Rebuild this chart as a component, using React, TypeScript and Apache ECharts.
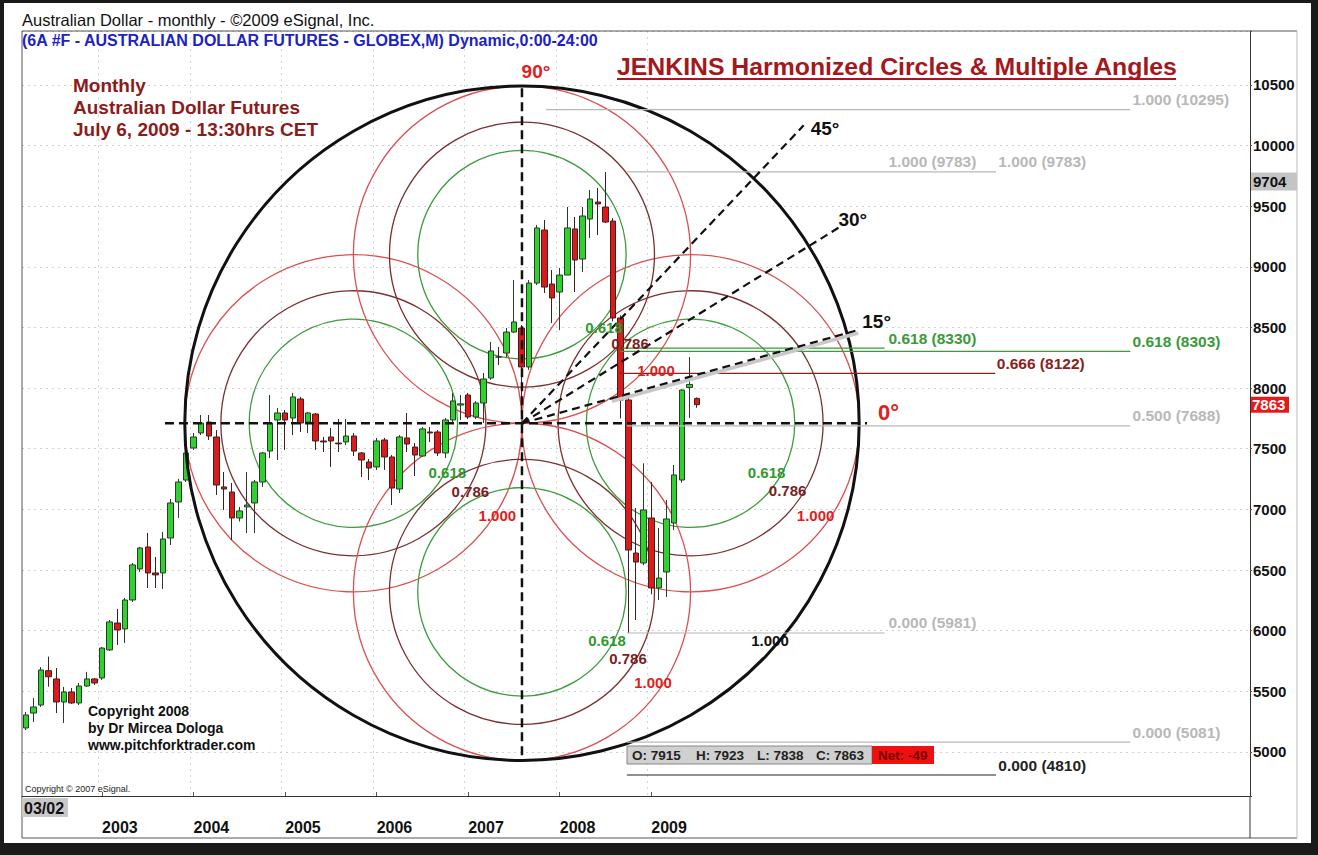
import React, { useEffect, useRef } from 'react';
import * as echarts from 'echarts';

// ---------- DATA ----------
const START_YEAR = 2002;
const START_MONTH = 3; // first bar: 03/02
const N_SLOTS = 161; // monthly slots shown on the time axis

const opens = [
  5198, 5321, 5387, 5670, 5602, 5412, 5495, 5404, 5544, 5602,
  5610, 5841, 6063, 6014, 6253, 6509, 6690, 6476, 6476, 6764, 7061, 7242,
  7506, 7630, 7720, 7597, 7185, 7143, 6929, 7020, 7053, 7226, 7481, 7737,
  7795, 7753, 7910, 7720, 7786, 7564, 7597, 7547, 7556, 7605, 7465, 7391,
  7350, 7572, 7432, 7168, 7589, 7514, 7440, 7638, 7638, 7465, 7737, 7860,
  7943, 7762, 7877, 8083, 8256, 8289, 8462, 8495, 8174, 8866, 9303, 8858,
  8792, 8932, 9312, 9064, 9394, 9534, 9493, 9377, 8578, 7902, 6640, 6558,
  6929, 6352, 6484, 6888, 7242, 8005, 7915,
];
const closes = [
  5305, 5371, 5676, 5620, 5412, 5495, 5404, 5544, 5602, 5569,
  5857, 6072, 6006, 6253, 6542, 6682, 6476, 6460, 6756, 7053, 7226, 7465,
  7597, 7712, 7605, 7201, 7168, 6929, 6987, 7036, 7226, 7465, 7712, 7795,
  7737, 7927, 7712, 7795, 7564, 7556, 7564, 7540, 7605, 7481, 7407, 7341,
  7564, 7432, 7176, 7597, 7539, 7448, 7663, 7630, 7465, 7737, 7894, 7870,
  7762, 7877, 8075, 8306, 8256, 8462, 8545, 8174, 8866, 9320, 8833, 8743,
  8932, 9320, 9056, 9419, 9559, 9518, 9369, 8578, 7902, 6665, 6566, 6995,
  6352, 6434, 6921, 7284, 7984, 8030, 7863,
];
const lows = [
  5180, 5247, 5371, 5538, 5321, 5239, 5396, 5387, 5536, 5553,
  5594, 5833, 5882, 5899, 6237, 6484, 6352, 6352, 6344, 6706, 6929, 7226,
  7490, 7613, 7572, 7119, 6995, 6748, 6900, 6805, 6805, 7185, 7424, 7407,
  7490, 7613, 7638, 7630, 7490, 7473, 7350, 7473, 7531, 7440, 7267, 7242,
  7325, 7325, 7036, 7135, 7473, 7275, 7432, 7556, 7440, 7424, 7720, 7737,
  7745, 7745, 7712, 8067, 8190, 8256, 8454, 7750, 8150, 8850, 8784, 8537,
  8479, 8932, 8792, 8957, 9237, 9262, 9361, 8550, 7750, 5981, 6088, 6540,
  6300, 6253, 6278, 6830, 7220, 7753, 7838,
];
const highs = [
  5330, 5445, 5700, 5786, 5692, 5536, 5528, 5569, 5660, 5610,
  5866, 6088, 6179, 6270, 6558, 6690, 6805, 6607, 6814, 7086, 7251, 7490,
  7630, 7778, 7778, 7654, 7308, 7218, 7020, 7308, 7242, 7473, 7943, 7836,
  7819, 7960, 7927, 7803, 7795, 7597, 7671, 7745, 7745, 7630, 7473, 7415,
  7589, 7589, 7448, 7613, 7795, 7547, 7679, 7679, 7654, 7753, 7960, 7943,
  7960, 7894, 8124, 8380, 8339, 8495, 8891, 8520, 8891, 9345, 9386, 8973,
  8990, 9493, 9411, 9493, 9633, 9650, 9781, 9402, 8600, 7950, 7012, 7380,
  7226, 6847, 7077, 7366, 7990, 8256, 7923,
];

const yTicks = [5000, 5500, 6000, 6500, 7000, 7500, 8000, 8500, 9000, 9500, 10000, 10500];
const LAST_LABEL_YEAR = 2009;
const Y_MIN = 4637;
const Y_MAX = 10944;

const NET_CHANGE = -49;
const CURSOR_PRICE = 9704;

// Jenkins construction
const CENTER_INDEX = 65.05; // Aug 2007
const CENTER_PRICE = 7710;
const RADIUS_POINTS = 2780;
const CIRCLE_RATIOS = ['1.000', '0.786', '0.618'];
const ANGLES = [
  { label: '45°', deg: 46.6, len: 410 },
  { label: '30°', deg: 31.7, len: 372 },
  { label: '15°', deg: 15.5, len: 349 },
];

// Fibonacci price levels (from/to in month slots)
const fibLevels = [
  { value: 10295, from: 68.2, to: 144.8, color: '#b8b8b8', labels: [['1.000 (10295)', 145.1]] },
  { value: 9783, from: 78.8, to: 127.2, color: '#b8b8b8', labels: [['1.000 (9783)', 113.1], ['1.000 (9783)', 127.5]] },
  { value: 8330, from: 77.9, to: 112.6, color: '#3a9a3a', labels: [['0.618 (8330)', 113.1]] },
  { value: 8303, from: 77.9, to: 144.8, color: '#3a9a3a', labels: [['0.618 (8303)', 145.1]] },
  { value: 8122, from: 77.9, to: 127.1, color: '#8b2020', labels: [['0.666 (8122)', 127.3]] },
  { value: 7688, from: 78.8, to: 144.8, color: '#b8b8b8', labels: [['0.500 (7688)', 145.1]] },
  { value: 5981, from: 78.8, to: 112.6, color: '#b8b8b8', labels: [['0.000 (5981)', 113.1]] },
  { value: 5081, from: 78.8, to: 144.8, color: '#b8b8b8', labels: [['0.000 (5081)', 145.1]] },
  { value: 4810, from: 78.8, to: 127.2, color: '#222222', labels: [['0.000 (4810)', 127.5]] },
];

// ---------- derived ----------
const categories: string[] = [];
for (let k = 0; k < N_SLOTS; k++) {
  const m = START_MONTH - 1 + k;
  const y = START_YEAR + Math.floor(m / 12);
  const mm = (m % 12) + 1;
  categories.push(`${y}-${mm < 10 ? '0' + mm : mm}`);
}
const candleData = opens.map((o, i) => [o, closes[i], lows[i], highs[i]]);
const isYearStart = (v: string) => v.endsWith('-01') && Number(v.slice(0, 4)) <= LAST_LABEL_YEAR;

const F = '"Liberation Sans", Arial, Helvetica, sans-serif';

function buildGraphics(px: (i: number) => number, py: (v: number) => number) {
  const g: any[] = [];
  const txt = (x: number, y: number, text: string, font: string, fill: string, align = 'left', va = 'middle', z = 30) => ({
    type: 'text', x, y, z, silent: true,
    style: { text, font, fill, align, verticalAlign: va, textAlign: align, textVerticalAlign: va },
  });
  const line = (x1: number, y1: number, x2: number, y2: number, stroke: string, lineWidth: number, lineDash?: number[], z = 20) => ({
    type: 'line', z, silent: true, shape: { x1, y1, x2, y2 },
    style: { stroke, lineWidth, lineDash: lineDash || null, fill: 'none' },
  });
  const rect = (x: number, y: number, width: number, height: number, fill: string, z = 25, stroke?: string) => ({
    type: 'rect', z, silent: true, shape: { x, y, width, height }, style: { fill, stroke: stroke || null, lineWidth: 1 },
  });

  // frame
  g.push(line(22, 31, 1297, 31, '#555', 1));
  g.push(line(22, 31, 22, 838, '#555', 1));
  g.push(line(22, 838, 1297, 838, '#555', 1));
  g.push(line(1297, 31, 1297, 838, '#bbb', 1));
  g.push(line(1250, 796, 1250, 838, '#333', 1));
  // dark outer border
  g.push(rect(0, 0, 4, 855, '#1a1a1a', 60));
  g.push(rect(0, 0, 1318, 3, '#1a1a1a', 60));
  g.push(rect(1311, 0, 7, 855, '#1a1a1a', 60));
  g.push(rect(0, 843, 1318, 12, '#1a1a1a', 60));

  // headers
  g.push(txt(22, 20, 'Australian Dollar - monthly - ©2009 eSignal, Inc.', `16.5px ${F}`, '#111'));
  g.push(txt(22, 40, '(6A #F - AUSTRALIAN DOLLAR FUTURES - GLOBEX,M) Dynamic,0:00-24:00', `bold 16px ${F}`, '#1c22c4'));
  g.push(txt(617, 66, 'JENKINS Harmonized Circles & Multiple Angles', `bold 24.8px ${F}`, '#a3191b'));
  g.push(line(617, 79, 1176, 79, '#a3191b', 2));
  g.push(txt(73, 85, 'Monthly', `bold 19px ${F}`, '#8b1c1c'));
  g.push(txt(73, 107, 'Australian Dollar Futures', `bold 19px ${F}`, '#8b1c1c'));
  g.push(txt(73, 129, 'July 6, 2009 - 13:30hrs CET', `bold 19px ${F}`, '#8b1c1c'));
  g.push(txt(88, 711, 'Copyright 2008', `bold 14px ${F}`, '#111'));
  g.push(txt(88, 728, 'by Dr Mircea Dologa', `bold 14px ${F}`, '#111'));
  g.push(txt(88, 745, 'www.pitchforktrader.com', `bold 14px ${F}`, '#111'));
  g.push(txt(25, 789, 'Copyright © 2007 eSignal.', `9px ${F}`, '#222'));
  g.push(rect(22, 798, 46, 19, '#c8c8c8'));
  g.push(txt(24, 808, `${String(START_MONTH).padStart(2, '0')}/${String(START_YEAR).slice(2)}`, `bold 16px ${F}`, '#111'));

  // Jenkins circles
  const cx = px(CENTER_INDEX);
  const cy = py(CENTER_PRICE);
  const R = cy - py(CENTER_PRICE + RADIUS_POINTS);
  const h = R / 2;
  const colors: Record<string, string> = { '1.000': '#d95050', '0.786': '#7a3030', '0.618': '#3c9c3c' };
  const labelColors: Record<string, string> = { '1.000': '#e01e1e', '0.786': '#7a1f1f', '0.618': '#2f9a2f' };
  const sets = [
    { c: [cx - h, cy], off: { '0.618': [94, 49], '0.786': [117, 68], '1.000': [144, 92] } },
    { c: [cx + h, cy], off: { '0.618': [76, 49], '0.786': [97, 67], '1.000': [125, 92] } },
    { c: [cx, cy + h], off: { '0.618': [85, 49], '0.786': [106, 67], '1.000': [131, 91] } },
    { c: [cx, cy - h], off: { '0.618': [82, 73], '0.786': [108, 89], '1.000': [134, 116] } },
  ];
  sets.forEach((s) => {
    CIRCLE_RATIOS.forEach((r) => {
      g.push({ type: 'circle', z: 1, silent: true, shape: { cx: s.c[0], cy: s.c[1], r: h * Number(r) },
        style: { fill: 'none', stroke: colors[r], lineWidth: 1.3 } });
      const o = (s.off as any)[r];
      g.push(txt(s.c[0] + o[0], s.c[1] + o[1], r, `bold 15px ${F}`, labelColors[r], 'center'));
    });
  });
  g.push({ type: 'circle', z: 3, silent: true, shape: { cx, cy, r: R }, style: { fill: 'none', stroke: '#111', lineWidth: 3 } });
  g.push(txt(cx + 248, cy + 217, '1.000', `bold 15px ${F}`, '#111', 'center'));

  // axes of construction
  g.push(line(cx - 357, cy, cx + 345, cy, '#111', 2.5, [9, 5]));
  g.push(line(cx, cy - 335, cx, cy + 335, '#111', 2.5, [9, 5]));
  g.push(txt(cx + 14, cy - 352, '90°', `bold 19px ${F}`, '#e02020', 'center'));
  g.push(txt(cx + 356, cy - 11, '0°', `bold 22px ${F}`, '#e02020'));

  // angle lines
  const labelOff: Record<string, number[]> = { '45°': [7, 3], '30°': [0, -8], '15°': [4, -8] };
  ANGLES.forEach((a) => {
    const rad = (a.deg * Math.PI) / 180;
    const ex = cx + a.len * Math.cos(rad);
    const ey = cy - a.len * Math.sin(rad);
    if (a.label === '15°') g.push(line(cx + 90, cy - 90 * Math.tan(rad) + 3, ex, ey + 3, '#c8c8c8', 3.5, undefined, 19));
    g.push(line(cx, cy, ex, ey, '#111', 2.2, [8, 5]));
    g.push(txt(ex + labelOff[a.label][0], ey + labelOff[a.label][1], a.label, `bold 19px ${F}`, '#111'));
  });

  // fib levels
  fibLevels.forEach((f) => {
    const y = py(f.value);
    g.push(line(px(f.from), y, px(f.to), y, f.color, 1.2, undefined, 12));
    f.labels.forEach(([t, at]) => g.push(txt(px(at as number), y - 2, t as string, `bold 15.5px ${F}`, f.color, 'left', 'bottom')));
  });

  // OHLC box
  const li = opens.length - 1;
  g.push(rect(627, 746, 245, 18, '#d0d0d0', 25, '#888'));
  g.push(rect(872, 746, 62, 18, '#ee1111', 25));
  g.push(txt(632, 755, `O: ${opens[li]}`, `bold 13.5px ${F}`, '#222'));
  g.push(txt(696, 755, `H: ${highs[li]}`, `bold 13.5px ${F}`, '#222'));
  g.push(txt(757, 755, `L: ${lows[li]}`, `bold 13.5px ${F}`, '#222'));
  g.push(txt(816, 755, `C: ${closes[li]}`, `bold 13.5px ${F}`, '#222'));
  g.push(txt(878, 755, `Net: ${NET_CHANGE}`, `bold 13.5px ${F}`, '#7a0000'));

  // price tags on axis
  const yc = py(CURSOR_PRICE);
  g.push(rect(1251, yc - 9, 46, 18, '#c4c4c4'));
  g.push(txt(1253, yc, String(CURSOR_PRICE), `bold 15px ${F}`, '#111'));
  const yl = py(closes[li]);
  g.push(rect(1251, yl - 8, 38, 16, '#e51b1b'));
  g.push(txt(1252, yl, String(closes[li]), `bold 15px ${F}`, '#fff'));

  return g;
}

export default function App() {
  const ref = useRef<HTMLDivElement>(null);
  useEffect(() => {
    const chart = echarts.init(ref.current!, null, { renderer: 'svg' });
    chart.setOption({
      animation: false,
      backgroundColor: '#ffffff',
      grid: { left: 22, right: 68, top: 31, bottom: 59, containLabel: false },
      xAxis: {
        type: 'category',
        data: categories,
        boundaryGap: true,
        axisLine: { show: true, lineStyle: { color: '#333', width: 1 } },
        axisTick: { show: true, alignWithLabel: true, inside: true, length: 4, interval: (_i: number, v: string) => isYearStart(v), lineStyle: { color: '#555' } },
        axisLabel: {
          interval: (_i: number, v: string) => isYearStart(v),
          formatter: (v: string) => v.slice(0, 4),
          align: 'left', margin: 23, color: '#111', fontWeight: 'bold', fontSize: 16, fontFamily: F,
        },
        splitLine: { show: true, interval: (_i: number, v: string) => isYearStart(v), lineStyle: { color: '#d6d6d6', type: [2, 4] } },
      },
      yAxis: {
        type: 'value', position: 'right', min: Y_MIN, max: Y_MAX, splitNumber: 12,
        axisLine: { show: true, lineStyle: { color: '#333', width: 1 } },
        axisTick: { show: true, length: 2, lineStyle: { color: '#555' } },
        axisLabel: {
          margin: 3, color: '#111', fontWeight: 'bold', fontSize: 15, fontFamily: F,
          formatter: (v: number) => (yTicks.indexOf(Math.round(v)) >= 0 ? String(Math.round(v)) : ''),
        },
        splitLine: { show: true, lineStyle: { color: '#cfcfcf', type: [2, 4] } },
      },
      series: [
        {
          type: 'candlestick',
          data: candleData,
          barWidth: 6,
          z: 2,
          itemStyle: { color: '#2fd12f', color0: '#dd1a1a', borderColor: '#2b3b2b', borderColor0: '#3b2222', borderWidth: 1 },
        },
      ],
    });
    const x0 = chart.convertToPixel({ xAxisIndex: 0 }, categories[0]) as number;
    const x1 = chart.convertToPixel({ xAxisIndex: 0 }, categories[1]) as number;
    const px = (i: number) => x0 + (x1 - x0) * i;
    const py = (v: number) => chart.convertToPixel({ yAxisIndex: 0 }, v) as number;
    chart.setOption({ graphic: { elements: buildGraphics(px, py) } });
    return () => chart.dispose();
  }, []);
  return <div ref={ref} style={{ position: 'absolute', left: 0, top: 0, width: 1318, height: 855 }} />;
}
